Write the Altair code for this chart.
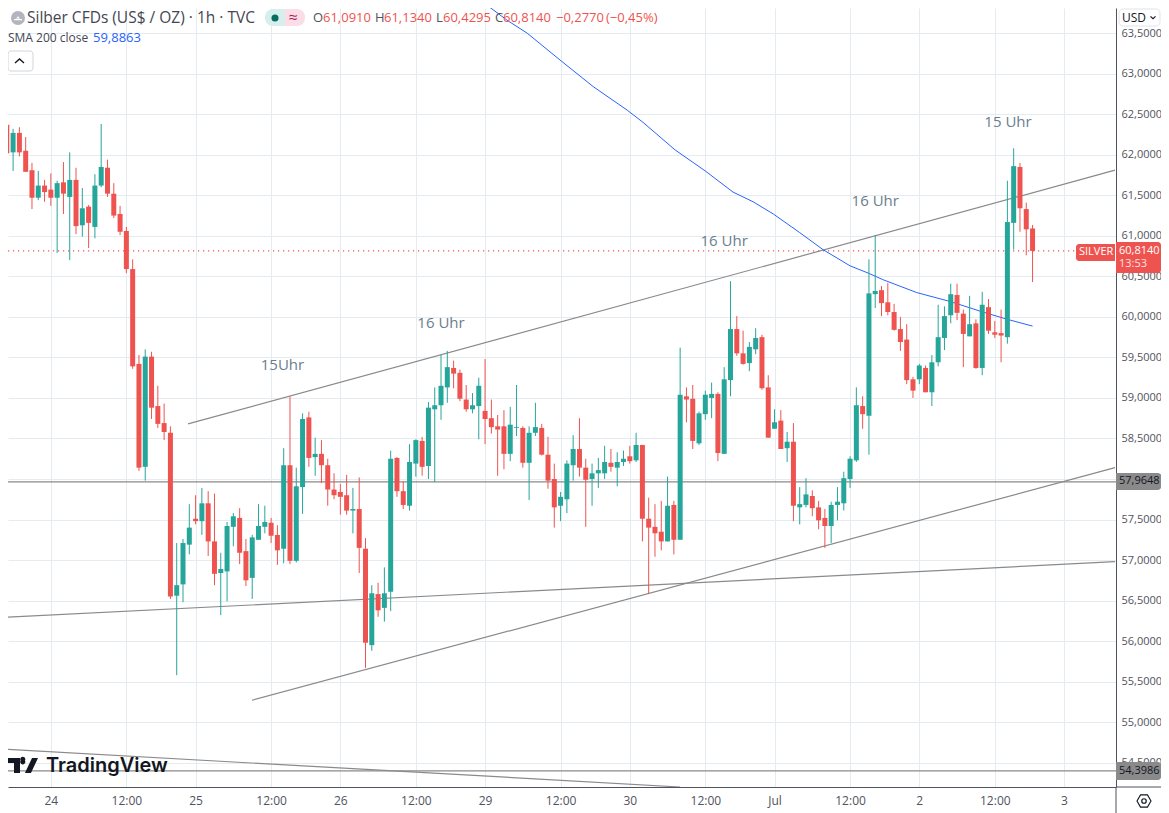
import json
import altair as alt
import pandas as pd

opens = [61.87,62.37,62.03,62.27,62.05,61.81,61.47,61.62,61.57,61.47,
61.66,61.48,61.69,61.13,61.36,61.11,61.62,61.84,61.52,61.27,
61.06,60.59,59.42,58.15,59.51,58.90,58.69,58.57,56.56,56.70,
57.19,57.51,57.48,57.70,57.23,56.84,56.86,57.41,57.52,57.11,
56.78,57.25,57.41,57.46,57.31,57.14,58.17,56.99,57.90,58.76,
58.27,58.31,58.17,57.87,57.84,57.80,57.61,57.63,57.14,55.95,
56.58,56.41,56.61,58.26,57.85,57.67,58.19,58.47,58.16,58.86,
58.91,59.13,59.37,59.31,58.98,58.86,58.90,58.84,58.75,58.65,
58.65,58.31,58.63,58.63,58.20,58.57,58.63,58.30,58.00,57.67,
57.75,58.17,58.37,58.14,58.00,58.07,58.07,58.20,58.14,58.21,
58.28,58.23,58.42,57.51,57.41,57.35,57.23,57.68,57.25,59.02,
58.99,58.44,58.80,59.00,59.05,58.31,59.22,59.85,59.55,59.43,
59.60,59.75,59.13,58.62,58.72,58.38,58.46,57.65,57.68,57.79,
57.65,57.52,57.42,57.68,57.70,58.00,58.23,58.90,58.78,60.28,
60.33,60.18,60.06,59.85,59.72,59.23,59.23,59.37,59.07,59.44,
59.74,60.02,60.27,60.04,59.76,59.92,59.37,60.12,59.81,59.80,
59.75,61.16,61.85,61.33,61.091]
closes = [62.39,62.02,62.27,62.03,61.79,61.47,61.62,61.54,61.47,61.65,
61.52,61.69,61.12,61.34,61.16,61.62,61.85,61.52,61.25,61.05,
60.59,59.39,58.14,59.51,58.88,58.68,58.58,56.55,56.69,57.21,
57.40,57.48,57.70,57.23,56.83,56.89,57.42,57.54,57.09,56.75,
57.28,57.42,57.47,57.30,57.12,58.17,56.99,57.91,58.74,58.26,
58.31,58.17,57.87,57.80,57.78,57.61,57.63,57.15,55.98,56.59,
56.38,56.59,58.25,57.85,57.68,58.21,58.48,58.15,58.88,58.91,
59.15,59.38,59.30,58.99,58.86,58.91,59.15,58.74,58.64,58.61,
58.31,58.67,58.64,58.20,58.57,58.64,58.30,57.98,57.65,57.78,
58.19,58.37,58.14,57.99,58.07,58.11,58.21,58.15,58.21,58.25,
58.22,58.42,57.51,57.40,57.33,57.23,57.67,57.25,59.04,58.98,
58.47,58.81,59.04,59.05,58.32,59.23,59.85,59.55,59.42,59.63,
59.74,59.12,58.51,58.70,58.37,58.46,57.67,57.69,57.81,57.64,
57.49,57.42,57.68,57.72,58.01,58.25,58.91,58.80,60.29,60.32,
60.17,60.06,59.84,59.69,59.22,59.09,59.40,59.07,59.44,59.75,
60.01,60.28,60.05,59.79,59.91,59.37,60.15,59.83,59.78,59.77,
61.17,61.86,61.34,61.08,60.814]
highs = [62.49,62.49,62.32,62.34,62.22,61.90,61.80,61.69,61.77,61.68,
61.91,62.03,61.84,61.59,61.38,61.76,62.38,61.94,61.65,61.37,
61.11,60.71,59.53,59.60,59.57,59.15,58.93,58.65,57.21,57.26,
57.69,57.80,57.89,57.85,57.82,57.09,57.47,57.58,57.64,57.26,
57.31,57.69,57.67,57.52,57.43,58.38,59.02,58.14,58.81,58.83,
58.51,58.48,58.25,58.07,57.94,58.05,57.89,58.02,57.27,56.69,
56.72,56.91,58.35,58.27,57.97,58.43,58.49,58.52,58.95,59.13,
59.53,59.58,59.46,59.35,59.16,59.06,59.25,59.48,58.98,58.79,
58.85,58.89,59.16,58.65,58.65,58.94,58.68,58.52,58.19,57.84,
58.23,58.54,58.75,58.25,58.19,58.26,58.41,58.37,58.33,58.35,
58.41,58.57,58.42,57.77,57.69,57.73,58.03,57.73,59.62,59.13,
59.16,58.83,59.09,59.19,59.07,59.38,60.44,60.01,59.83,59.69,
59.86,59.78,59.28,58.86,58.85,58.58,58.69,57.90,58.01,57.86,
57.73,57.63,57.72,57.90,58.09,58.28,59.13,59.02,60.71,61.01,
60.38,60.42,60.16,60.00,59.91,59.26,59.42,59.40,59.53,60.15,
60.13,60.41,60.41,60.09,60.26,59.97,60.31,60.22,59.95,60.09,
61.68,62.08,61.90,61.41,61.134]
lows = [61.63,61.49,61.80,61.98,61.79,61.33,61.44,61.42,61.37,60.79,
61.27,60.70,61.02,60.99,60.85,60.97,61.60,61.48,61.22,61.01,
60.54,59.36,58.10,57.98,58.74,58.63,58.48,56.52,55.58,56.48,
57.07,57.44,57.31,57.05,56.69,56.32,56.49,57.17,56.95,56.68,
56.52,57.25,57.33,57.21,56.94,56.96,56.95,56.97,57.57,58.15,
58.04,57.95,57.67,57.75,57.56,57.56,57.33,56.84,55.67,55.88,
56.30,56.24,56.37,57.78,57.63,57.61,58.03,58.04,58.00,57.96,
58.73,58.94,59.12,58.96,58.83,58.81,58.49,58.43,58.56,58.04,
58.12,58.22,58.53,58.14,57.74,58.53,58.29,57.88,57.40,57.48,
57.58,57.98,58.03,57.41,57.67,57.89,58.00,58.09,57.91,58.16,
58.19,58.21,57.23,56.58,57.04,57.12,57.23,57.07,57.25,58.70,
58.37,58.42,58.73,58.75,58.22,58.31,59.02,59.52,59.41,59.33,
59.54,59.10,58.51,58.62,58.37,58.21,57.48,57.44,57.65,57.54,
57.38,57.15,57.21,57.49,57.61,57.89,58.21,58.62,58.30,60.11,
60.01,60.02,59.83,59.58,59.17,59.00,59.17,59.07,58.90,59.39,
59.59,59.92,59.96,59.38,59.76,59.36,59.28,59.79,59.74,59.44,
59.67,60.83,61.05,60.76,60.4295]

sma_bar = [76.2,80.5,83.7,88.9,94.2,99.6,102.1,107.2,112,116.4,119.6,122.8,127,130.7,135,137.9,140.2,145.6,150.9,156.1,160,164]
sma_val = [63.91,63.66,63.50,63.17,62.84,62.55,62.40,62.06,61.80,61.54,61.42,61.27,61.04,60.83,60.63,60.54,60.46,60.30,60.19,60.06,59.97,59.8863]

trend_lines = [
    ("a", 29.8, 58.68, 177.1, 61.81),
    ("b", 39.96, 55.27, 177.1, 58.14),
    ("c", -0.1, 56.29, 177.1, 56.98),
    ("d", -0.1, 54.67, 108, 54.20),
]
h_levels = [57.9648, 54.3986]
last_price = 60.814

notes = ["15Uhr", "16 Uhr", "16 Uhr", "16 Uhr", "15 Uhr"]
note_bar = [44.8, 70, 115, 139, 160.1]
note_price = [59.41, 59.92, 60.94, 61.43, 62.4]

x_ticks = [8, 20, 31, 43, 54, 66, 77, 89, 100, 112, 123, 135, 146, 158, 169]
x_labels = ["24", "12:00", "25", "12:00", "26", "12:00", "29", "12:00", "30", "12:00", "Jul", "12:00", "2", "12:00", "3"]
y_ticks = [54.5, 55, 55.5, 56, 56.5, 57, 57.5, 58, 58.5, 59, 59.5, 60, 60.5, 61, 61.5, 62, 62.5, 63, 63.5]

GREEN, RED, BLUE = "#26a69a", "#ef5350", "#2962ff"
GRID, INK, GREY = "#e4ecf2", "#50535e", "#8a8a8a"
FONT = "Open Sans"

W, H = 1108, 779
X = alt.Scale(domain=[1.19, 177.26], nice=False, zero=False)
Y = alt.Scale(domain=[54.20, 63.811], nice=False, zero=False)

df = pd.DataFrame({"bar": range(len(opens)), "o": opens, "h": highs, "l": lows, "c": closes})
df["col"] = [GREEN if c >= o else RED for o, c in zip(opens, closes)]

label_expr = "%s[indexof(%s, datum.value)]" % (json.dumps(x_labels), json.dumps(x_ticks))
x_axis = alt.Axis(values=x_ticks, labelExpr=label_expr, title=None, grid=True, gridColor=GRID, gridWidth=1,
                  ticks=False, domainColor=INK, labelColor=INK, labelFont=FONT, labelFontSize=12,
                  labelPadding=8, labelFlush=False, labelOverlap=False)
y_axis = alt.Axis(values=y_ticks, orient="right", labelExpr="replace(format(datum.value, '.4f'), '.', ',')",
                  title=None, grid=True, gridColor=GRID, gridWidth=1, ticks=False, domainColor=INK,
                  labelColor=INK, labelFont=FONT, labelFontSize=11, labelPadding=5, labelOverlap=False)

base = alt.Chart(df)
layers = []

# level lines, last price, trend lines, SMA
lv = pd.DataFrame({"v": h_levels})
layers.append(alt.Chart(lv).mark_rule(color=GREY, strokeWidth=1.2).encode(
    x=alt.value(0), x2=alt.value(W),
    y=alt.Y("v:Q", scale=Y, axis=y_axis)))
layers.append(alt.Chart(pd.DataFrame({"v": [last_price]})).mark_rule(color=RED, strokeWidth=1.2, strokeDash=[1.2, 3.8]).encode(
    x=alt.value(0), x2=alt.value(1068), y=alt.Y("v:Q", scale=Y)))
tl = pd.DataFrame([{"k": k, "b": b, "p": p} for k, b0, p0, b1, p1 in trend_lines for b, p in ((b0, p0), (b1, p1))])
layers.append(alt.Chart(tl).mark_line(color=GREY, strokeWidth=1.2, clip=True).encode(
    x=alt.X("b:Q", scale=X, axis=x_axis), y=alt.Y("p:Q", scale=Y), detail="k:N"))
layers.append(alt.Chart(pd.DataFrame({"b": sma_bar, "p": sma_val})).mark_line(color=BLUE, strokeWidth=1, clip=True).encode(
    x=alt.X("b:Q", scale=X), y=alt.Y("p:Q", scale=Y)))

# candles
layers.append(base.mark_rule(strokeWidth=1, clip=True).encode(
    x=alt.X("bar:Q", scale=X), y=alt.Y("l:Q", scale=Y), y2="h:Q", color=alt.Color("col:N", scale=None)))
layers.append(base.mark_rule(strokeWidth=5, clip=True).encode(
    x=alt.X("bar:Q", scale=X), y=alt.Y("o:Q", scale=Y), y2="c:Q", color=alt.Color("col:N", scale=None)))

# annotations
layers.append(alt.Chart(pd.DataFrame({"b": note_bar, "p": note_price, "t": notes})).mark_text(
    font=FONT, fontSize=15, color="#6a7d8e").encode(
    x=alt.X("b:Q", scale=X), y=alt.Y("p:Q", scale=Y), text="t:N"))


def px(x):
    return alt.value(x - 8)


def rect(x0, x1, y0, y1, **kw):
    layers.append(alt.Chart(df.head(1)).mark_rect(**kw).encode(x=px(x0), x2=px(x1), y=px(y0), y2=px(y1)))


def rule(x0, x1, y0, y1, **kw):
    layers.append(alt.Chart(df.head(1)).mark_rule(**kw).encode(x=px(x0), x2=px(x1), y=px(y0), y2=px(y1)))


def text(x, y, s, size=13, color=INK, font=FONT, **kw):
    layers.append(alt.Chart(df.head(1)).mark_text(align=kw.pop("align", "left"), baseline="middle", font=font,
                                                  fontSize=size, color=color, **kw).encode(
        x=px(x), y=px(y), text=alt.value(s)))


def sym(x, y, shape, size, fill=None, stroke=None, sw=1.0):
    kw = {"filled": fill is not None, "opacity": 1}
    if fill is not None:
        kw["fill"] = fill
        kw["strokeWidth"] = 0
    if stroke is not None:
        kw["stroke"] = stroke
        kw["strokeWidth"] = sw
    layers.append(alt.Chart(df.head(1)).mark_point(shape=shape, size=size, **kw).encode(x=px(x), y=px(y)))


# bottom/right chrome
rule(1116, 1116, 787, 813, color=INK)
rule(1116, 1161, 787, 787, color=INK)

# header
HY = 18
sym(18, HY, "circle", 196, fill="#b2b5be")
sym(18, HY, "M-1,.25H1V.55H-1ZM-.5,.1L0,-.45L.5,.1Z", 64, fill="#ffffff")
text(27, HY, "Silber CFDs (US$ / OZ) · 1h · TVC", size=15.5, color="#434651")
rect(265, 285, 9, 26, fill="#d6efec", cornerRadiusTopLeft=8, cornerRadiusBottomLeft=8)
rect(285, 305, 9, 26, fill="#fbdde6", cornerRadiusTopRight=8, cornerRadiusBottomRight=8)
sym(275, HY, "circle", 50, fill="#0a6b5f")
text(293, HY, "≈", size=16, color="#b0255f", align="center")
for x, s, c in [(313, "O", INK), (323, "61,0910", RED), (375, "H", INK), (384, "61,1340", RED),
                (436, "L", INK), (443, "60,4295", RED), (495, "C", INK), (503, "60,8140", RED),
                (556, "−0,2770", RED), (606, "(−0,45%)", RED)]:
    text(x, HY, s, size=13, color=c)
text(8, 38, "SMA 200 close", size=12, color="#434651")
text(93, 38, "59,8863", size=13, color=BLUE)
rect(8, 33, 51, 71, fill="#ffffff", stroke="#d1d4dc", strokeWidth=1, cornerRadius=3)
sym(19.5, 61, "M-1,.45L0,-.45L1,.45", 81, stroke="#131722", sw=1.4)

# right scale tags
rect(1119, 1160, 9, 26, fill="#ffffff", stroke="#e0e3eb", strokeWidth=1, cornerRadius=4)
text(1122, 17.5, "USD", size=12, color="#131722")
sym(1153, 17.5, "M-1,-.45L0,.45L1,-.45", 25, stroke="#131722", sw=1.2)
rect(1076, 1115, 244, 261, fill=RED, cornerRadiusTopLeft=3, cornerRadiusBottomLeft=3)
text(1079, 252, "SILVER", size=11, color="#ffffff")
rect(1116, 1161, 242, 273, fill=RED, cornerRadiusTopRight=3, cornerRadiusBottomRight=3)
text(1119, 251, "60,8140", size=11, color="#ffffff")
text(1119, 264, "13:53", size=11, color="#fde3e3")
rect(1116, 1161, 473, 490, fill=GREY, cornerRadiusTopRight=3, cornerRadiusBottomRight=3)
text(1119, 481, "57,9648", size=11, color="#131722")
rect(1116, 1161, 762, 780, fill=GREY, cornerRadiusTopRight=3, cornerRadiusBottomRight=3)
text(1119, 771, "54,3986", size=11, color="#131722")

# logo and settings icon
sym(23, 765.5, "M-1,-.5H-.2V.5H-.6V-.17H-1ZM.13,-.33A.17,.17 0 1,0 -.16,-.33A.17,.17 0 1,0 .13,-.33ZM.6,-.5H1L.53,.5H.13Z", 900, fill="#131722")
text(46, 766, "TradingView", size=20, color="#131722", font="Inter", fontWeight=600)
sym(1144, 801, "M-1,0L-.5,-.87H.5L1,0L.5,.87H-.5Z", 196, stroke="#131722", sw=1.1)
sym(1144, 801, "circle", 20, stroke="#131722", sw=1.2)

chart = alt.layer(*layers).properties(
    width=W, height=H,
    background="#ffffff",
    autosize=alt.AutoSizeParams(type="none"),
    padding={"left": 0, "top": 0, "right": 45, "bottom": 26},
).configure_view(stroke=None)

chart.save("out.html", embed_options={"renderer": "svg", "actions": False})
